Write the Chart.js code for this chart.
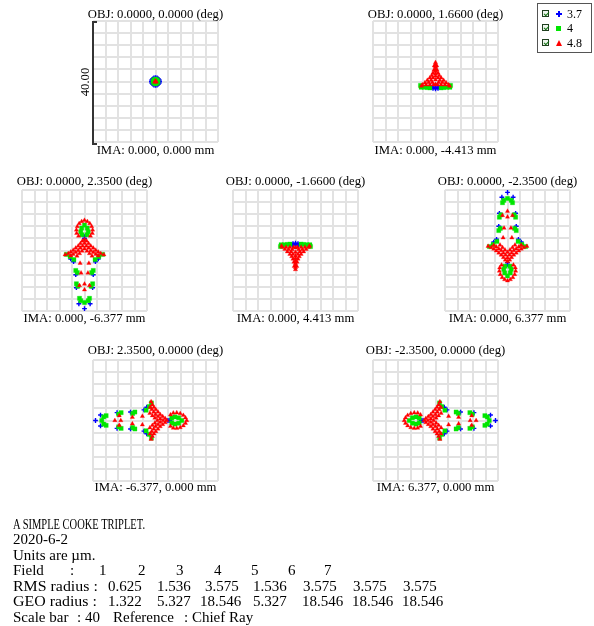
<!DOCTYPE html>
<html>
<head>
<meta charset="utf-8">
<script src="https://cdn.jsdelivr.net/npm/chart.js@4.4.0/dist/chart.umd.min.js"></script>
<style>
  body { margin:0; width:594px; height:626px; position:relative; background:#fff; overflow:hidden;
         font-family:"Liberation Serif","Times New Roman",serif; color:#000; }
  canvas { position:absolute; }
  .lbl { position:absolute; font-size:12.7px; white-space:nowrap; transform:translate(-50%,-50%); line-height:1; }
  .txt { position:absolute; font-size:15px; white-space:nowrap; line-height:16px; transform-origin:0 50%; }
</style>
</head>
<body>
<script>
// wavelengths (um)
const wavelengths = ["3.7", "4", "4.8"];

const objLabels = [
  "OBJ: 0.0000, 0.0000 (deg)", "OBJ: 0.0000, 1.6600 (deg)", "OBJ: 0.0000, 2.3500 (deg)",
  "OBJ: 0.0000, -1.6600 (deg)", "OBJ: 0.0000, -2.3500 (deg)", "OBJ: 2.3500, 0.0000 (deg)",
  "OBJ: -2.3500, 0.0000 (deg)"
];
const imaLabels = [
  "IMA: 0.000, 0.000 mm", "IMA: 0.000, -4.413 mm", "IMA: 0.000, -6.377 mm",
  "IMA: 0.000, 4.413 mm", "IMA: 0.000, 6.377 mm", "IMA: -6.377, 0.000 mm",
  "IMA: 6.377, 0.000 mm"
];

const fieldNums = ["1", "2", "3", "4", "5", "6", "7"];
const rmsRadius = ["0.625", "1.536", "3.575", "1.536", "3.575", "3.575", "3.575"];
const geoRadius = ["1.322", "5.327", "18.546", "5.327", "18.546", "18.546", "18.546"];
const scaleBar = 40;

// spot coordinates in um, [x, y] relative to chief ray
const f1Blue = [[1.3,0],[0.9,0.9],[0,1.3],[-0.9,0.9],[-1.3,0],[-0.9,-0.9],[0,-1.3],[0.9,-0.9],
  [1.2,0.5],[0.5,1.2],[-0.5,1.2],[-1.2,0.5],[-1.2,-0.5],[-0.5,-1.2],[0.5,-1.2],[1.2,-0.5]];
const f1Green = [[0.8,0],[0.55,0.55],[0,0.8],[-0.55,0.55],[-0.8,0],[-0.55,-0.55],[0,-0.8],[0.55,-0.55]];
const f1Red = [[0,0.25],[-0.25,-0.15],[0.25,-0.15],[0,0]];

const f2Blue = [[-1.5,-2],[1.5,-2],[-0.8,-2.3],[0.8,-2.3],[0,-2.4],[-1,-1.8],[1,-1.8],[0,-1.9]];
const f2Green = [[-4.8,-1.3],[4.8,-1.3],[-4.6,-1.9],[4.6,-1.9],[-3.6,-1.9],[3.6,-1.9],[-2.6,-2],[2.6,-2],[-1.8,-2.1],[1.8,-2.1]];
const f2Red = [[0,6.3],[0,5.6],[0,4.9],[-0.4,5.2],[0.4,5.2],[0,4.2],[-0.5,3.8],[0.5,3.8],[0,3.4],
  [-0.8,2.8],[0.8,2.8],[0,2.6],[-1.2,2],[1.2,2],[0,1.8],[-1.8,1.2],[1.8,1.2],[-0.8,1.2],[0.8,1.2],
  [-2.6,0.4],[2.6,0.4],[-1.4,0.4],[1.4,0.4],[0,0.6],[-3.4,-0.4],[3.4,-0.4],[-2.2,-0.3],[2.2,-0.3],
  [-1,-0.3],[1,-0.3],[-4.2,-1.1],[4.2,-1.1],[-3,-1.1],[3,-1.1],[-1.8,-1.1],[1.8,-1.1],[-0.6,-1.1],
  [0.6,-1.1],[-4.5,-1.5],[4.5,-1.5],[0,-0.9]];

const f3Blue = [[0,4.6],[0,4],[-4.4,-2.8],[4.4,-2.8],[-3.5,-3.7],[3.5,-3.7],[-2.8,-8],[2.8,-8],
  [-2.6,-12.3],[2.6,-12.3],[-1.8,-17.6],[1.8,-17.6],[0,-19.2]];
const f3Green = [[0,8.4],[-0.9,7.4],[0.9,7.4],[-1.2,6.2],[1.2,6.2],[-0.8,5.2],[0.8,5.2],
  [-5.8,-1.3],[5.8,-1.3],[-4.6,-2],[4.6,-2],[-3.4,-3],[3.4,-3],[-2.8,-6.6],[2.8,-6.6],[-2.3,-7.3],
  [2.3,-7.3],[-2.6,-11],[2.6,-11],[-2.1,-11.8],[2.1,-11.8],[-1.6,-15.8],[1.6,-15.8],[-1.2,-16.6],
  [1.2,-16.6],[0,-17.2]];
const f3Red = [[0,10],[-0.9,9.6],[0.9,9.6],[-1.7,8.9],[1.7,8.9],[-2.3,7.9],[2.3,7.9],[-2.6,6.8],
  [2.6,6.8],[-2.5,5.7],[2.5,5.7],[-1.9,4.8],[1.9,4.8],[0,3.6],[-0.7,3.1],[0.7,3.1],[0,2.4],
  [-1.3,2.3],[1.3,2.3],[-2,1.5],[2,1.5],[-0.6,1.5],[0.6,1.5],[-2.8,0.8],[2.8,0.8],[-1.3,0.8],
  [1.3,0.8],[0,0.6],[-3.6,0.1],[3.6,0.1],[-2,0],[2,0],[-4.4,-0.5],[4.4,-0.5],[-2.8,-0.6],[2.8,-0.6],
  [-0.8,-0.2],[0.8,-0.2],[-5.2,-1],[5.2,-1],[-3.6,-1.2],[3.6,-1.2],[-1.6,-1],[1.6,-1],[-6.2,-1.4],
  [6.2,-1.4],[-4.4,-1.7],[4.4,-1.7],[-2.4,-1.8],[2.4,-1.8],[-1.4,-4.2],[1.4,-4.2],[-1.1,-7.4],
  [1.1,-7.4],[-1.6,-11.6],[0,-11.1],[1.6,-11.6],[0,-13]];

const f4Blue = [[-1.5,2],[1.5,2],[-0.8,2.3],[0.8,2.3],[0,2.4],[-1,1.8],[1,1.8],[0,1.9]];
const f4Green = [[-4.8,1.3],[4.8,1.3],[-4.6,1.9],[4.6,1.9],[-3.6,1.9],[3.6,1.9],[-2.6,2],[2.6,2],[-1.8,2.1],[1.8,2.1]];
const f4Red = [[0,-6.3],[0,-5.6],[0,-4.9],[-0.4,-5.2],[0.4,-5.2],[0,-4.2],[-0.5,-3.8],[0.5,-3.8],
  [0,-3.4],[-0.8,-2.8],[0.8,-2.8],[0,-2.6],[-1.2,-2],[1.2,-2],[0,-1.8],[-1.8,-1.2],[1.8,-1.2],
  [-0.8,-1.2],[0.8,-1.2],[-2.6,-0.4],[2.6,-0.4],[-1.4,-0.4],[1.4,-0.4],[0,-0.6],[-3.4,0.4],[3.4,0.4],
  [-2.2,0.3],[2.2,0.3],[-1,0.3],[1,0.3],[-4.2,1.1],[4.2,1.1],[-3,1.1],[3,1.1],[-1.8,1.1],[1.8,1.1],
  [-0.6,1.1],[0.6,1.1],[-4.5,1.5],[4.5,1.5],[0,0.9]];

const f5Blue = [[0,-4.6],[0,-4],[-4.4,2.8],[4.4,2.8],[-3.5,3.7],[3.5,3.7],[-2.8,8],[2.8,8],
  [-2.6,12.3],[2.6,12.3],[-1.8,17.6],[1.8,17.6],[0,19.2]];
const f5Green = [[0,-8.4],[-0.9,-7.4],[0.9,-7.4],[-1.2,-6.2],[1.2,-6.2],[-0.8,-5.2],[0.8,-5.2],
  [-5.8,1.3],[5.8,1.3],[-4.6,2],[4.6,2],[-3.4,3],[3.4,3],[-2.8,6.6],[2.8,6.6],[-2.3,7.3],[2.3,7.3],
  [-2.6,11],[2.6,11],[-2.1,11.8],[2.1,11.8],[-1.6,15.8],[1.6,15.8],[-1.2,16.6],[1.2,16.6],[0,17.2]];
const f5Red = [[0,-10],[-0.9,-9.6],[0.9,-9.6],[-1.7,-8.9],[1.7,-8.9],[-2.3,-7.9],[2.3,-7.9],
  [-2.6,-6.8],[2.6,-6.8],[-2.5,-5.7],[2.5,-5.7],[-1.9,-4.8],[1.9,-4.8],[0,-3.6],[-0.7,-3.1],
  [0.7,-3.1],[0,-2.4],[-1.3,-2.3],[1.3,-2.3],[-2,-1.5],[2,-1.5],[-0.6,-1.5],[0.6,-1.5],[-2.8,-0.8],
  [2.8,-0.8],[-1.3,-0.8],[1.3,-0.8],[0,-0.6],[-3.6,-0.1],[3.6,-0.1],[-2,0],[2,0],[-4.4,0.5],[4.4,0.5],
  [-2.8,0.6],[2.8,0.6],[-0.8,0.2],[0.8,0.2],[-5.2,1],[5.2,1],[-3.6,1.2],[3.6,1.2],[-1.6,1],[1.6,1],
  [-6.2,1.4],[6.2,1.4],[-4.4,1.7],[4.4,1.7],[-2.4,1.8],[2.4,1.8],[-1.4,4.2],[1.4,4.2],[-1.1,7.4],
  [1.1,7.4],[-1.6,11.6],[0,11.1],[1.6,11.6],[0,13]];

const f6Blue = [[4.6,0],[4,0],[-2.8,-4.4],[-2.8,4.4],[-3.7,-3.5],[-3.7,3.5],[-8,-2.8],[-8,2.8],
  [-12.3,-2.6],[-12.3,2.6],[-17.6,-1.8],[-17.6,1.8],[-19.2,0]];
const f6Green = [[8.4,0],[7.4,-0.9],[7.4,0.9],[6.2,-1.2],[6.2,1.2],[5.2,-0.8],[5.2,0.8],
  [-1.3,-5.8],[-1.3,5.8],[-2,-4.6],[-2,4.6],[-3,-3.4],[-3,3.4],[-6.6,-2.8],[-6.6,2.8],[-7.3,-2.3],
  [-7.3,2.3],[-11,-2.6],[-11,2.6],[-11.8,-2.1],[-11.8,2.1],[-15.8,-1.6],[-15.8,1.6],[-16.6,-1.2],
  [-16.6,1.2],[-17.2,0]];
const f6Red = [[10,0],[9.6,-0.9],[9.6,0.9],[8.9,-1.7],[8.9,1.7],[7.9,-2.3],[7.9,2.3],[6.8,-2.6],
  [6.8,2.6],[5.7,-2.5],[5.7,2.5],[4.8,-1.9],[4.8,1.9],[3.6,0],[3.1,-0.7],[3.1,0.7],[2.4,0],
  [2.3,-1.3],[2.3,1.3],[1.5,-2],[1.5,2],[1.5,-0.6],[1.5,0.6],[0.8,-2.8],[0.8,2.8],[0.8,-1.3],
  [0.8,1.3],[0.6,0],[0.1,-3.6],[0.1,3.6],[0,-2],[0,2],[-0.5,-4.4],[-0.5,4.4],[-0.6,-2.8],[-0.6,2.8],
  [-0.2,-0.8],[-0.2,0.8],[-1,-5.2],[-1,5.2],[-1.2,-3.6],[-1.2,3.6],[-1,-1.6],[-1,1.6],[-1.4,-6.2],
  [-1.4,6.2],[-1.7,-4.4],[-1.7,4.4],[-1.8,-2.4],[-1.8,2.4],[-4.2,-1.4],[-4.2,1.4],[-7.4,-1.1],
  [-7.4,1.1],[-11.6,-1.6],[-11.1,0],[-11.6,1.6],[-13,0]];

const f7Blue = [[-4.6,0],[-4,0],[2.8,-4.4],[2.8,4.4],[3.7,-3.5],[3.7,3.5],[8,-2.8],[8,2.8],
  [12.3,-2.6],[12.3,2.6],[17.6,-1.8],[17.6,1.8],[19.2,0]];
const f7Green = [[-8.4,0],[-7.4,-0.9],[-7.4,0.9],[-6.2,-1.2],[-6.2,1.2],[-5.2,-0.8],[-5.2,0.8],
  [1.3,-5.8],[1.3,5.8],[2,-4.6],[2,4.6],[3,-3.4],[3,3.4],[6.6,-2.8],[6.6,2.8],[7.3,-2.3],[7.3,2.3],
  [11,-2.6],[11,2.6],[11.8,-2.1],[11.8,2.1],[15.8,-1.6],[15.8,1.6],[16.6,-1.2],[16.6,1.2],[17.2,0]];
const f7Red = [[-10,0],[-9.6,-0.9],[-9.6,0.9],[-8.9,-1.7],[-8.9,1.7],[-7.9,-2.3],[-7.9,2.3],
  [-6.8,-2.6],[-6.8,2.6],[-5.7,-2.5],[-5.7,2.5],[-4.8,-1.9],[-4.8,1.9],[-3.6,0],[-3.1,-0.7],
  [-3.1,0.7],[-2.4,0],[-2.3,-1.3],[-2.3,1.3],[-1.5,-2],[-1.5,2],[-1.5,-0.6],[-1.5,0.6],[-0.8,-2.8],
  [-0.8,2.8],[-0.8,-1.3],[-0.8,1.3],[-0.6,0],[-0.1,-3.6],[-0.1,3.6],[0,-2],[0,2],[0.5,-4.4],[0.5,4.4],
  [0.6,-2.8],[0.6,2.8],[0.2,-0.8],[0.2,0.8],[1,-5.2],[1,5.2],[1.2,-3.6],[1.2,3.6],[1,-1.6],[1,1.6],
  [1.4,-6.2],[1.4,6.2],[1.7,-4.4],[1.7,4.4],[1.8,-2.4],[1.8,2.4],[4.2,-1.4],[4.2,1.4],[7.4,-1.1],
  [7.4,1.1],[11.6,-1.6],[11.1,0],[11.6,1.6],[13,0]];

const spots = [
  [f1Blue, f1Green, f1Red], [f2Blue, f2Green, f2Red], [f3Blue, f3Green, f3Red],
  [f4Blue, f4Green, f4Red], [f5Blue, f5Green, f5Red], [f6Blue, f6Green, f6Red],
  [f7Blue, f7Green, f7Red]
];

// page layout: grid box left/top and label rows
const gridW = 125, gridH = 121, pad = 6;
const panelPos = [[93, 21], [373, 21], [22, 190], [233, 190], [445, 190], [93, 360], [373, 360]];
const titleY = [14, 14, 181, 181, 181, 350, 350];
const imaY = [150, 150, 318, 318, 318, 487, 487];

const colors = { blue: "#0000ff", green: "#00e600", red: "#ff0000" };

function el(tag, style, text) {
  const e = document.createElement(tag);
  Object.assign(e.style, style);
  if (text !== undefined) e.textContent = text;
  document.body.appendChild(e);
  return e;
}

function toXY(arr) {
  return arr.map(p => ({ x: p[0], y: p[1] }));
}

function spotChart(canvas, blue, green, red) {
  const axis = {
    type: "linear", min: -scaleBar / 2, max: scaleBar / 2,
    ticks: { display: false, stepSize: 4 },
    grid: { color: "#e2e2e2", lineWidth: 2, drawTicks: false },
    border: { display: false }
  };
  return new Chart(canvas, {
    type: "scatter",
    data: {
      datasets: [
        { label: wavelengths[2], data: toXY(red), pointStyle: "triangle", pointRadius: 2.5,
          backgroundColor: colors.red, borderColor: colors.red, borderWidth: 0.3, clip: false },
        { label: wavelengths[1], data: toXY(green), pointStyle: "rect", pointRadius: 3,
          backgroundColor: colors.green, borderColor: colors.green, borderWidth: 0.3, clip: false },
        { label: wavelengths[0], data: toXY(blue), pointStyle: "cross", pointRadius: 2.4,
          borderColor: colors.blue, borderWidth: 1.4, clip: false }
      ]
    },
    options: {
      responsive: false,
      animation: false,
      events: [],
      layout: { padding: pad },
      plugins: { legend: { display: false }, tooltip: { enabled: false }, title: { display: false } },
      scales: {
        x: { ...axis, afterFit: s => { s.height = 0; } },
        y: { ...axis, afterFit: s => { s.width = 0; } }
      }
    }
  });
}

spots.forEach((s, i) => {
  const [gx, gy] = panelPos[i];
  const c = document.createElement("canvas");
  c.width = gridW + 2 * pad;
  c.height = gridH + 2 * pad;
  c.style.left = (gx - pad) + "px";
  c.style.top = (gy - pad) + "px";
  document.body.appendChild(c);
  spotChart(c, s[0], s[1], s[2]);

  const cx = gx + gridW / 2;
  el("div", { left: cx + "px", top: titleY[i] + "px" }, objLabels[i]).className = "lbl";
  el("div", { left: cx + "px", top: imaY[i] + "px" }, imaLabels[i]).className = "lbl";
});

// scale bar on first panel
const [sbx, sby] = panelPos[0];
el("div", { position: "absolute", left: (sbx - 1) + "px", top: sby + "px", width: "2px", height: (gridH + 3) + "px", background: "#333" });
el("div", { position: "absolute", left: (sbx - 1) + "px", top: sby + "px", width: "5px", height: "2px", background: "#333" });
el("div", { position: "absolute", left: (sbx - 1) + "px", top: (sby + gridH + 1) + "px", width: "5px", height: "2px", background: "#333" });
el("div", { position: "absolute", left: (sbx - 8) + "px", top: (sby + gridH / 2) + "px", fontSize: "12.7px",
  whiteSpace: "nowrap", transform: "translate(-50%,-50%) rotate(-90deg)", lineHeight: "1" }, scaleBar.toFixed(2));

// legend box
const legend = el("div", { position: "absolute", left: "537px", top: "3px", width: "55px", height: "50px",
  border: "1px solid #555", boxSizing: "border-box", background: "#fff" });
const rowY = [10, 24, 39];
wavelengths.forEach((w, i) => {
  const y = rowY[i];
  const box = document.createElement("div");
  Object.assign(box.style, { position: "absolute", left: "4px", top: (y - 4) + "px", width: "7px", height: "7px",
    border: "1px solid #1f3f1f", boxSizing: "border-box", background: "#eef6ee" });
  const tick = document.createElement("div");
  Object.assign(tick.style, { position: "absolute", left: "1.5px", top: "-0.5px", width: "2px", height: "4px",
    borderRight: "1.5px solid #137313", borderBottom: "1.5px solid #137313", transform: "rotate(45deg)" });
  box.appendChild(tick);
  legend.appendChild(box);

  const m = document.createElement("div");
  if (i === 0) {
    Object.assign(m.style, { position: "absolute", left: "18px", top: (y - 3) + "px", width: "6px", height: "6px",
      background: `linear-gradient(${colors.blue},${colors.blue}) center/2px 6px no-repeat, linear-gradient(${colors.blue},${colors.blue}) center/6px 2px no-repeat` });
  } else if (i === 1) {
    Object.assign(m.style, { position: "absolute", left: "18px", top: (y - 2.5) + "px", width: "5px", height: "5px", background: colors.green });
  } else {
    Object.assign(m.style, { position: "absolute", left: "18px", top: (y - 3) + "px", width: "0", height: "0",
      borderLeft: "3px solid transparent", borderRight: "3px solid transparent", borderBottom: `6px solid ${colors.red}` });
  }
  legend.appendChild(m);

  const t = document.createElement("div");
  Object.assign(t.style, { position: "absolute", left: "29px", top: (y - 7) + "px", fontSize: "12px", lineHeight: "14px" });
  t.textContent = w;
  legend.appendChild(t);
});

// text block below
const lineTop = [515.5, 531, 546.5, 562, 577.5, 593, 608.5];
function txt(x, row, s, sx) {
  const e = el("div", { left: x + "px", top: lineTop[row] + "px" }, s);
  e.className = "txt";
  if (sx) e.style.transform = `scaleX(${sx})`;
  return e;
}
txt(13, 0, "A SIMPLE COOKE TRIPLET.", 0.7);
txt(13, 1, "2020-6-2");
txt(13, 2, "Units are \u00b5m.");
txt(13, 3, "Field");
txt(70, 3, ":");
const fieldX = [103, 142, 180, 218, 255, 292, 328];
fieldNums.forEach((f, i) => txt(fieldX[i] - 4, 3, f));
txt(13, 4, "RMS radius :", 1.06);
txt(13, 5, "GEO radius :", 1.06);
const rmsX = [108, 157, 205, 253, 303, 353, 403];
const geoX = [108, 157, 200, 253, 302, 352, 402];
rmsRadius.forEach((v, i) => txt(rmsX[i], 4, v));
geoRadius.forEach((v, i) => txt(geoX[i], 5, v));
txt(13, 6, "Scale bar");
txt(77, 6, ": " + scaleBar);
txt(113, 6, "Reference");
txt(184, 6, ": Chief Ray");
</script>
</body>
</html>
